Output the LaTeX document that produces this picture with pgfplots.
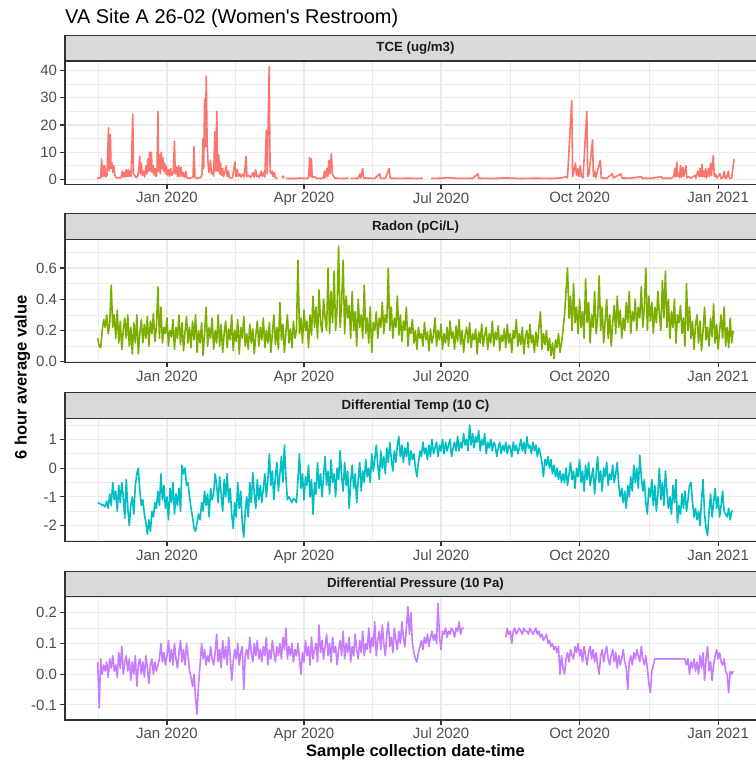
\documentclass[border=0pt]{standalone}
\usepackage{pgfplots}
\pgfplotsset{compat=1.18}
\usepackage{pgfplotstable}
\usepackage{fontspec}
\setmainfont{Liberation Sans}[Ligatures=TeXOff]

\definecolor{tcecol}{HTML}{F8766D}
\definecolor{radcol}{HTML}{7CAE00}
\definecolor{tmpcol}{HTML}{00BFC4}
\definecolor{prscol}{HTML}{C77CFF}
\definecolor{gridc}{HTML}{EBEBEB}
\definecolor{g20}{HTML}{333333}
\definecolor{g30}{HTML}{4D4D4D}
\definecolor{g85}{HTML}{D9D9D9}
\definecolor{g10}{HTML}{1A1A1A}

% time axis: days since 1 Jan 2020, one value per day
\pgfplotstableread[row sep=\\]{
v\\
0.15\\ 0.10\\ 0.09\\ 0.20\\ 0.27\\ 0.22\\ 0.30\\ 0.18\\ 0.25\\ 0.49\\
0.22\\ 0.30\\ 0.15\\ 0.33\\ 0.12\\ 0.26\\ 0.08\\ 0.20\\ 0.28\\ 0.15\\
0.30\\ 0.10\\ 0.22\\ 0.05\\ 0.25\\ 0.12\\ 0.30\\ 0.05\\ 0.18\\ 0.27\\
0.12\\ 0.24\\ 0.15\\ 0.29\\ 0.10\\ 0.26\\ 0.18\\ 0.31\\ 0.13\\ 0.22\\
0.48\\ 0.15\\ 0.35\\ 0.12\\ 0.22\\ 0.18\\ 0.28\\ 0.10\\ 0.20\\ 0.16\\
0.27\\ 0.08\\ 0.22\\ 0.15\\ 0.30\\ 0.11\\ 0.25\\ 0.07\\ 0.19\\ 0.29\\
0.12\\ 0.22\\ 0.09\\ 0.26\\ 0.14\\ 0.30\\ 0.06\\ 0.20\\ 0.12\\ 0.25\\
0.04\\ 0.18\\ 0.35\\ 0.10\\ 0.22\\ 0.15\\ 0.28\\ 0.08\\ 0.20\\ 0.12\\
0.30\\ 0.10\\ 0.24\\ 0.06\\ 0.18\\ 0.26\\ 0.09\\ 0.21\\ 0.14\\ 0.30\\
0.07\\ 0.20\\ 0.13\\ 0.27\\ 0.05\\ 0.22\\ 0.15\\ 0.29\\ 0.10\\ 0.18\\
0.08\\ 0.24\\ 0.12\\ 0.21\\ 0.05\\ 0.17\\ 0.26\\ 0.10\\ 0.22\\ 0.14\\
0.28\\ 0.09\\ 0.20\\ 0.12\\ 0.25\\ 0.06\\ 0.18\\ 0.30\\ 0.11\\ 0.22\\
0.08\\ 0.38\\ 0.14\\ 0.24\\ 0.06\\ 0.19\\ 0.30\\ 0.12\\ 0.21\\ 0.09\\
0.26\\ 0.15\\ 0.20\\ 0.65\\ 0.18\\ 0.28\\ 0.12\\ 0.33\\ 0.20\\ 0.26\\
0.09\\ 0.30\\ 0.17\\ 0.42\\ 0.22\\ 0.35\\ 0.15\\ 0.46\\ 0.25\\ 0.19\\
0.40\\ 0.28\\ 0.20\\ 0.60\\ 0.18\\ 0.45\\ 0.25\\ 0.58\\ 0.20\\ 0.35\\
0.74\\ 0.22\\ 0.38\\ 0.65\\ 0.18\\ 0.42\\ 0.28\\ 0.36\\ 0.15\\ 0.45\\
0.20\\ 0.32\\ 0.10\\ 0.40\\ 0.22\\ 0.30\\ 0.15\\ 0.49\\ 0.18\\ 0.28\\
0.12\\ 0.35\\ 0.06\\ 0.25\\ 0.20\\ 0.32\\ 0.15\\ 0.28\\ 0.22\\ 0.38\\
0.18\\ 0.30\\ 0.25\\ 0.60\\ 0.20\\ 0.35\\ 0.15\\ 0.28\\ 0.22\\ 0.42\\
0.17\\ 0.30\\ 0.13\\ 0.26\\ 0.20\\ 0.35\\ 0.10\\ 0.22\\ 0.18\\ 0.27\\
0.12\\ 0.20\\ 0.08\\ 0.22\\ 0.15\\ 0.18\\ 0.10\\ 0.25\\ 0.14\\ 0.19\\
0.07\\ 0.21\\ 0.12\\ 0.17\\ 0.28\\ 0.10\\ 0.20\\ 0.14\\ 0.24\\ 0.08\\
0.18\\ 0.12\\ 0.22\\ 0.10\\ 0.26\\ 0.15\\ 0.19\\ 0.08\\ 0.23\\ 0.13\\
0.27\\ 0.11\\ 0.20\\ 0.06\\ 0.17\\ 0.22\\ 0.12\\ 0.25\\ 0.09\\ 0.18\\
0.14\\ 0.21\\ 0.05\\ 0.19\\ 0.12\\ 0.24\\ 0.10\\ 0.17\\ 0.22\\ 0.08\\
0.18\\ 0.12\\ 0.26\\ 0.10\\ 0.19\\ 0.14\\ 0.23\\ 0.07\\ 0.17\\ 0.13\\
0.21\\ 0.09\\ 0.24\\ 0.12\\ 0.18\\ 0.06\\ 0.20\\ 0.15\\ 0.27\\ 0.10\\
0.18\\ 0.11\\ 0.22\\ 0.05\\ 0.16\\ 0.20\\ 0.09\\ 0.24\\ 0.12\\ 0.17\\
0.06\\ 0.19\\ 0.10\\ 0.22\\ 0.32\\ 0.08\\ 0.18\\ 0.11\\ 0.20\\ 0.07\\
0.15\\ 0.04\\ 0.12\\ 0.02\\ 0.14\\ 0.09\\ 0.18\\ 0.06\\ 0.12\\ 0.20\\
0.30\\ 0.45\\ 0.60\\ 0.28\\ 0.42\\ 0.20\\ 0.50\\ 0.25\\ 0.35\\ 0.18\\
0.40\\ 0.22\\ 0.32\\ 0.15\\ 0.53\\ 0.25\\ 0.38\\ 0.12\\ 0.30\\ 0.22\\
0.45\\ 0.18\\ 0.28\\ 0.55\\ 0.20\\ 0.35\\ 0.12\\ 0.26\\ 0.40\\ 0.15\\
0.30\\ 0.10\\ 0.25\\ 0.36\\ 0.18\\ 0.42\\ 0.22\\ 0.33\\ 0.15\\ 0.28\\
0.20\\ 0.38\\ 0.25\\ 0.45\\ 0.18\\ 0.32\\ 0.26\\ 0.40\\ 0.20\\ 0.35\\
0.28\\ 0.48\\ 0.22\\ 0.35\\ 0.60\\ 0.20\\ 0.42\\ 0.26\\ 0.38\\ 0.18\\
0.35\\ 0.25\\ 0.45\\ 0.30\\ 0.20\\ 0.52\\ 0.28\\ 0.58\\ 0.22\\ 0.40\\
0.15\\ 0.32\\ 0.22\\ 0.40\\ 0.12\\ 0.30\\ 0.25\\ 0.36\\ 0.18\\ 0.28\\
0.10\\ 0.50\\ 0.20\\ 0.35\\ 0.15\\ 0.26\\ 0.08\\ 0.24\\ 0.30\\ 0.12\\
0.26\\ 0.07\\ 0.20\\ 0.35\\ 0.14\\ 0.22\\ 0.10\\ 0.28\\ 0.16\\ 0.37\\
0.12\\ 0.24\\ 0.08\\ 0.20\\ 0.30\\ 0.15\\ 0.35\\ 0.10\\ 0.22\\ 0.09\\
0.28\\ 0.12\\ 0.20\\
}\radon

\pgfplotstableread[row sep=\\]{
v\\
-1.20\\ -1.22\\ -1.25\\ -1.30\\ -1.28\\ -1.35\\ -1.15\\ -1.40\\ -0.90\\ -1.30\\
-0.50\\ -1.10\\ -0.80\\ -1.50\\ -0.60\\ -1.20\\ -0.50\\ -1.00\\ -1.75\\ -0.40\\
-1.40\\ -2.00\\ -1.30\\ -1.00\\ -1.60\\ -0.60\\ -0.20\\ 0.00\\ -0.80\\ -1.30\\
-1.10\\ -1.60\\ -1.90\\ -2.30\\ -1.80\\ -2.20\\ -1.50\\ -1.70\\ -1.20\\ -1.40\\
-0.80\\ -1.30\\ -0.20\\ -1.10\\ -0.60\\ -1.40\\ -1.00\\ -1.80\\ -0.70\\ -1.20\\
-0.50\\ -1.60\\ -0.90\\ -1.30\\ -0.70\\ -1.50\\ 0.10\\ -0.20\\ 0.00\\ -0.60\\
-0.50\\ -1.00\\ -1.40\\ -1.70\\ -2.10\\ -2.20\\ -1.90\\ -1.60\\ -1.80\\ -1.20\\
-1.50\\ -0.80\\ -1.30\\ -0.90\\ -1.70\\ -0.70\\ -1.10\\ -0.90\\ -0.20\\ -0.60\\
-1.20\\ -0.30\\ -0.90\\ -1.50\\ -0.40\\ -1.00\\ -0.20\\ -1.20\\ -0.70\\ -1.60\\
-2.10\\ -1.20\\ -1.70\\ -0.50\\ -1.40\\ -0.80\\ -1.90\\ -2.40\\ -1.50\\ -1.00\\
-1.70\\ -0.50\\ -1.20\\ -0.15\\ -0.90\\ -1.40\\ -0.40\\ -1.10\\ -0.60\\ -1.20\\
-0.70\\ -0.20\\ -1.00\\ -0.40\\ 0.50\\ -0.60\\ -0.10\\ -1.10\\ -0.30\\ 0.20\\
-0.80\\ -0.20\\ 0.40\\ -0.50\\ 0.80\\ -0.30\\ -1.10\\ -1.00\\ -1.10\\ -1.20\\
-1.05\\ -1.10\\ -1.20\\ -0.40\\ 0.50\\ -0.70\\ -0.20\\ -1.10\\ -0.30\\ -0.60\\
0.10\\ -1.00\\ -0.40\\ -1.60\\ -0.50\\ -0.90\\ 0.20\\ -0.70\\ -0.20\\ -1.00\\
-0.30\\ 0.40\\ -0.60\\ -0.10\\ -0.90\\ 0.30\\ -0.50\\ -0.20\\ -1.00\\ 0.00\\
-0.40\\ 0.60\\ -0.30\\ -0.80\\ 0.20\\ -0.60\\ -0.10\\ -1.40\\ -0.50\\ 0.10\\
-0.70\\ -0.20\\ -1.20\\ -0.40\\ 0.20\\ -0.80\\ -0.10\\ -0.50\\ 0.30\\ -0.30\\
0.00\\ -0.50\\ 0.50\\ -0.10\\ 0.30\\ 0.80\\ 0.10\\ -0.40\\ 0.60\\ 0.00\\
0.40\\ -0.20\\ 0.70\\ 0.20\\ 0.90\\ 0.30\\ -0.10\\ 0.60\\ 0.20\\ 0.80\\
1.10\\ 0.40\\ 0.80\\ 0.20\\ 0.70\\ 0.40\\ 0.90\\ 0.10\\ 0.60\\ 0.30\\
0.50\\ 0.00\\ -0.30\\ 0.20\\ 0.60\\ 0.40\\ 0.90\\ 0.50\\ 0.70\\ 0.30\\
0.80\\ 0.40\\ 1.00\\ 0.50\\ 0.70\\ 0.90\\ 0.40\\ 0.80\\ 0.60\\ 1.00\\
0.50\\ 0.90\\ 0.60\\ 0.80\\ 1.00\\ 0.40\\ 0.70\\ 0.90\\ 0.60\\ 1.10\\
0.60\\ 0.90\\ 0.70\\ 1.20\\ 0.80\\ 1.00\\ 0.60\\ 1.50\\ 0.80\\ 1.20\\
0.70\\ 1.10\\ 0.90\\ 1.30\\ 0.60\\ 1.00\\ 0.80\\ 1.20\\ 0.50\\ 0.90\\
0.70\\ 1.00\\ 0.60\\ 0.90\\ 0.80\\ 0.40\\ 0.70\\ 0.90\\ 0.50\\ 0.80\\
0.60\\ 0.90\\ 0.50\\ 0.80\\ 0.70\\ 0.40\\ 0.90\\ 0.60\\ 0.80\\ 0.50\\
0.70\\ 1.00\\ 0.60\\ 0.90\\ 0.50\\ 1.10\\ 0.70\\ 0.80\\ 0.50\\ 0.90\\
0.60\\ 0.80\\ 0.40\\ 0.70\\ 0.50\\ 0.20\\ -0.30\\ 0.30\\ 0.10\\ 0.40\\
0.00\\ 0.30\\ -0.20\\ 0.10\\ -0.30\\ 0.00\\ -0.40\\ -0.10\\ -0.50\\ -0.20\\
-0.50\\ 0.00\\ -0.60\\ -0.20\\ 0.20\\ -0.40\\ -0.10\\ -0.70\\ 0.00\\ -0.30\\
0.30\\ -0.50\\ -0.10\\ -0.80\\ 0.10\\ -0.40\\ 0.20\\ -0.60\\ -0.30\\ 0.00\\
-0.90\\ -0.20\\ 0.40\\ -0.50\\ -0.10\\ -0.80\\ 0.00\\ -0.30\\ 0.20\\ -0.60\\
-0.20\\ -0.40\\ 0.10\\ -0.50\\ -0.20\\ 0.20\\ -0.60\\ -1.00\\ -0.70\\ -1.20\\
-0.80\\ -1.40\\ -0.60\\ -1.00\\ -0.30\\ -0.80\\ 0.10\\ -0.50\\ 0.00\\ -0.70\\
0.45\\ -0.30\\ -0.80\\ -0.40\\ -1.20\\ -1.60\\ -0.70\\ -1.00\\ -0.40\\ -1.30\\
-0.60\\ -1.50\\ -0.90\\ 0.00\\ -1.10\\ -0.50\\ -1.30\\ -0.10\\ -0.80\\ -1.40\\
-1.00\\ -1.60\\ -0.60\\ -1.20\\ -0.40\\ -1.90\\ -1.30\\ -1.60\\ -0.90\\ -1.40\\
-0.80\\ -1.50\\ -1.10\\ -0.60\\ -0.50\\ -1.20\\ -1.70\\ -1.40\\ -1.80\\ -1.50\\
-2.00\\ -1.10\\ -0.40\\ -1.60\\ -2.10\\ -2.35\\ -1.50\\ -0.90\\ -1.70\\ -1.20\\
-0.70\\ -1.40\\ -1.00\\ -1.70\\ -1.30\\ -0.80\\ -1.50\\ -1.60\\ -1.70\\ -1.40\\
-1.80\\ -1.50\\ -1.50\\
}\dtemp

% differential pressure, before the logging gap (from day -46)
\pgfplotstableread[row sep=\\]{
v\\
0.04\\ -0.11\\ 0.05\\ 0.00\\ 0.03\\ 0.01\\ 0.04\\ -0.01\\ 0.05\\ 0.02\\
0.06\\ 0.01\\ 0.03\\ -0.01\\ 0.07\\ 0.02\\ 0.09\\ 0.00\\ 0.04\\ 0.06\\
0.01\\ 0.05\\ -0.02\\ 0.04\\ 0.00\\ 0.06\\ -0.04\\ 0.03\\ 0.05\\ 0.00\\
0.04\\ -0.01\\ 0.06\\ 0.02\\ -0.03\\ 0.03\\ 0.05\\ 0.00\\ 0.04\\ 0.01\\
0.03\\ 0.05\\ 0.10\\ 0.04\\ 0.07\\ 0.03\\ 0.06\\ 0.11\\ 0.04\\ 0.08\\
0.03\\ 0.10\\ 0.05\\ 0.02\\ 0.07\\ 0.11\\ 0.04\\ 0.08\\ 0.03\\ 0.10\\
0.06\\ 0.01\\ -0.01\\ -0.04\\ 0.00\\ -0.08\\ -0.13\\ -0.03\\ 0.03\\ 0.10\\
0.05\\ 0.08\\ 0.03\\ 0.06\\ 0.04\\ 0.09\\ 0.05\\ 0.03\\ 0.07\\ 0.13\\
0.04\\ 0.08\\ 0.02\\ 0.11\\ 0.05\\ 0.09\\ 0.03\\ 0.12\\ 0.06\\ -0.02\\
0.04\\ 0.08\\ 0.05\\ 0.10\\ 0.03\\ 0.07\\ 0.09\\ -0.05\\ 0.06\\ 0.08\\
0.05\\ 0.12\\ 0.07\\ 0.04\\ 0.10\\ 0.06\\ 0.11\\ 0.05\\ 0.08\\ 0.04\\
0.09\\ 0.06\\ 0.12\\ 0.03\\ 0.08\\ 0.05\\ 0.11\\ 0.07\\ 0.04\\ 0.09\\
0.06\\ 0.10\\ 0.05\\ 0.12\\ 0.08\\ 0.15\\ 0.05\\ 0.09\\ 0.06\\ 0.10\\
0.04\\ 0.08\\ 0.06\\ 0.10\\ 0.05\\ 0.00\\ 0.07\\ 0.04\\ 0.11\\ 0.06\\
0.09\\ 0.03\\ 0.12\\ 0.05\\ 0.08\\ 0.10\\ 0.04\\ 0.16\\ 0.07\\ 0.11\\
0.05\\ 0.09\\ 0.13\\ 0.06\\ 0.10\\ 0.04\\ 0.12\\ 0.07\\ 0.09\\ 0.03\\
0.08\\ 0.11\\ 0.06\\ 0.14\\ 0.05\\ 0.10\\ 0.07\\ 0.12\\ 0.04\\ 0.09\\
0.06\\ 0.13\\ 0.08\\ 0.05\\ 0.11\\ 0.07\\ 0.14\\ 0.06\\ 0.10\\ 0.08\\
0.15\\ 0.07\\ 0.12\\ 0.09\\ 0.17\\ 0.06\\ 0.11\\ 0.14\\ 0.08\\ 0.16\\
0.10\\ 0.06\\ 0.13\\ 0.17\\ 0.09\\ 0.12\\ 0.07\\ 0.15\\ 0.11\\ 0.08\\
0.14\\ 0.10\\ 0.17\\ 0.12\\ 0.09\\ 0.15\\ 0.22\\ 0.13\\ 0.20\\ 0.10\\
0.07\\ 0.05\\ 0.04\\ 0.07\\ 0.09\\ 0.11\\ 0.08\\ 0.12\\ 0.10\\ 0.13\\
0.09\\ 0.12\\ 0.14\\ 0.11\\ 0.13\\ 0.10\\ 0.23\\ 0.12\\ 0.08\\ 0.14\\
0.13\\ 0.15\\ 0.12\\ 0.14\\ 0.13\\ 0.15\\ 0.14\\ 0.12\\ 0.15\\ 0.14\\
0.17\\ 0.13\\ 0.15\\ 0.15\\
}\dpresA

% differential pressure, after the logging gap (from day 225)
\pgfplotstableread[row sep=\\]{
v\\
0.12\\ 0.15\\ 0.13\\ 0.14\\ 0.10\\ 0.14\\ 0.15\\ 0.13\\ 0.14\\ 0.15\\
0.14\\ 0.13\\ 0.15\\ 0.14\\ 0.14\\ 0.13\\ 0.15\\ 0.14\\ 0.13\\ 0.14\\
0.15\\ 0.13\\ 0.14\\ 0.12\\ 0.13\\ 0.11\\ 0.12\\ 0.13\\ 0.10\\ 0.11\\
0.09\\ 0.10\\ 0.08\\ 0.09\\ 0.07\\ 0.09\\ 0.00\\ 0.06\\ 0.02\\ 0.00\\
0.05\\ 0.07\\ 0.04\\ 0.08\\ 0.06\\ 0.05\\ 0.09\\ 0.07\\ 0.10\\ 0.06\\
0.08\\ 0.04\\ 0.09\\ 0.06\\ 0.03\\ 0.07\\ 0.09\\ 0.05\\ 0.08\\ 0.04\\
0.07\\ 0.03\\ 0.00\\ 0.06\\ 0.08\\ 0.04\\ 0.07\\ 0.09\\ 0.05\\ 0.03\\
0.06\\ 0.08\\ 0.04\\ 0.07\\ 0.02\\ 0.06\\ 0.03\\ 0.05\\ 0.08\\ 0.04\\
0.02\\ -0.05\\ 0.04\\ 0.06\\ 0.03\\ 0.07\\ 0.05\\ 0.08\\ 0.06\\ 0.04\\
0.09\\ 0.05\\ 0.03\\ 0.06\\ 0.02\\ -0.03\\ -0.06\\ 0.01\\ 0.03\\ 0.05\\
0.05\\ 0.05\\ 0.05\\ 0.05\\ 0.05\\ 0.05\\ 0.05\\ 0.05\\ 0.05\\ 0.05\\
0.05\\ 0.05\\ 0.05\\ 0.05\\ 0.05\\ 0.05\\ 0.05\\ 0.05\\ 0.05\\ 0.05\\
0.03\\ 0.05\\ 0.00\\ 0.04\\ 0.02\\ 0.05\\ 0.01\\ 0.04\\ 0.00\\ 0.06\\
0.02\\ 0.07\\ -0.02\\ 0.05\\ 0.09\\ 0.01\\ 0.04\\ -0.02\\ 0.03\\ 0.06\\
0.08\\ 0.05\\ 0.07\\ 0.04\\ 0.03\\ 0.05\\ 0.01\\ 0.00\\ -0.06\\ 0.01\\
0.00\\ 0.01\\
}\dpresB

\pgfplotsset{
  facet/.style={
    scale only axis, width=701bp, height=123.3bp,
    anchor=south west,
    xmin=-67.7, xmax=397.8,
    xtick={0,91,182,274,366},
    xticklabels={Jan 2020,Apr 2020,Jul 2020,Oct 2020,Jan 2021},
    minor xtick={-45.5,45.5,136.5,228,320},
    grid=both,
    major grid style={draw=gridc, line width=1.1bp},
    minor grid style={draw=gridc, line width=0.55bp},
    axis line style={draw=g20, line width=1.1bp},
    tick align=outside, tick pos=left,
    major tick length=4.5bp, minor tick length=0pt,
    major tick style={draw=g20, line width=1.1bp},
    ticklabel style={font=\fontsize{15}{15}\selectfont, text=g30},
    /pgf/number format/assume math mode=true,
    clip mode=individual,
    unbounded coords=jump,
    every axis plot/.append style={line width=1.6bp, no markers, line join=round},
  }
}

% grey facet strip with bold title above a panel
\newcommand{\facetstrip}[1]{%
  \draw[fill=g85, draw=g20, line width=1.1bp] (rel axis cs:0,1) rectangle ([yshift=25.5bp]rel axis cs:1,1);
  \node[font=\bfseries\fontsize{13.3}{13.3}\selectfont, text=g10] at ([yshift=12.75bp]rel axis cs:0.5,1) {#1};
}

\begin{document}
\begin{tikzpicture}

% TCE
\begin{axis}[facet, at={(65bp,577.7bp)},
  ymin=-1.84, ymax=43.57,
  ytick={0,10,20,30,40}, yticklabels={0,10,20,30,40},
  minor ytick={5,15,25,35}]
\addplot[tcecol] coordinates {
(-46.5,0.4) (-44,0.5) (-43.4,7.5) (-43,1) (-42.5,5) (-42.1,1.2) (-41.3,5) (-40.8,0.8) (-39.8,1.5)
(-38.8,19) (-38.3,3) (-37.6,16.5) (-37.1,4) (-36.5,6) (-35.9,2.5) (-35.3,5) (-34.6,1.5) (-33.8,0.6)
(-31.5,0.5) (-30.5,0.6) (-29.6,3) (-29.1,0.8) (-28.4,2.5) (-27.8,0.9) (-27.1,3.5) (-26.5,1) (-25.8,3.5)
(-25.2,1) (-24.5,3) (-23.8,1) (-22.7,24) (-22.2,2) (-21.5,1.5) (-20.5,0.6) (-19.5,1)
(-18.6,4) (-18.1,8.5) (-17.6,2) (-17,6) (-16.4,1.5) (-15.6,3) (-14.9,0.8) (-13.8,5) (-13.3,2)
(-12.7,7.5) (-12.2,3) (-11.5,10) (-11,3) (-10.3,10) (-9.8,2.5) (-9.1,5) (-8.5,1.5) (-7.8,4) (-7.2,1) (-6.6,3)
(-6,25) (-5.5,3) (-4.9,9) (-4.4,2) (-3.8,10) (-3.3,4) (-2.7,8) (-2.2,3) (-1.6,6) (-1,2) (-0.4,5)
(0.3,1.5) (1,3.5) (1.7,1) (2.5,4) (3.2,1.5) (4.2,2.5)
(5,14) (5.5,2) (6.3,4.5) (7,1) (7.8,5) (8.4,1) (9.3,4.5) (10,1) (10.8,2.5) (11.6,0.6) (12.6,3) (13.2,0.5)
(15.5,0.4) (17.3,0.8) (18,12) (18.6,0.6) (20.5,0.4) (22.5,0.6)
(23.3,2) (23.9,15) (24.4,4) (25,29.5) (25.5,12) (26.1,38) (26.7,13) (27.3,6) (27.9,2.5) (28.9,7) (29.5,2)
(30.2,3) (31,1.2) (31.8,17.5) (32.4,3) (33.1,25) (33.7,3) (34.4,9) (35,2) (35.6,6) (36.2,1.5) (37,4)
(37.6,1) (38.5,2.5) (39.4,5) (40,1) (40.8,3) (41.5,0.5) (43.5,0.5)
(45.2,6.5) (45.8,1) (46.7,3.5) (47.4,1) (48.5,2) (49.3,0.8) (50.7,2) (51.4,0.8) (52.5,8.5) (53.1,1)
(54.3,1.5) (55.5,0.6) (57.2,2.5) (57.9,0.8) (58.9,3.5) (59.6,1) (60.6,1.5) (61.3,0.6) (62.6,3) (63.3,1)
(64.3,2.5) (65,0.8) (66,18) (66.6,2) (67.9,41.5) (68.5,3) (69.2,2) (69.9,3) (70.6,1) (71.3,2.5) (72,0.5)
(73.5,0.4) (74.5,nan) (76.5,0.4) (77.2,1.2) (77.8,0.4) (78.6,nan) (79.2,0.3) (86,0.3) (88,0.5) (92,0.3)
(94,0.5) (94.8,8) (95.3,1) (95.9,7.5) (96.5,0.6) (98,1) (99,0.4) (102,0.3)
(104,0.5) (104.6,3) (105.2,0.6) (106.2,4) (106.8,1) (107.6,7) (108.2,2) (109.2,9.5) (109.8,2) (110.8,1)
(111.5,0.4) (117,0.3) (120.5,0.4) (121,nan) (122,0.3) (127,0.4)
(128.3,2) (128.8,0.5) (130,4) (130.5,0.5) (135,0.4) (138,0.3) (141.3,2) (141.8,0.4) (145,0.3)
(147.6,4) (148.2,0.5) (152,0.3) (160,0.4) (166,0.3) (170,0.4) (170.5,nan) (175.5,0.3) (182,0.4)
(186,0.6) (195,0.3) (203,0.4) (206.5,2) (207,0.4) (215,0.3) (225,0.5) (235,0.3) (245,0.4) (255,0.3)
(262,0.5) (265.3,1) (266,0.5)
(268.8,29) (269.4,1) (270.3,3) (271.3,6) (271.9,1.5) (272.8,4) (273.5,1) (274.5,5) (275.1,1) (276.3,0.6)
(278.8,25) (279.4,1) (280.3,2) (282.6,14.5) (283.2,1) (284.1,3) (284.7,0.5) (287.8,7) (288.4,0.5) (292,0.4)
(295.8,2) (296.4,0.5) (301.5,2) (302.1,0.5) (308,0.4) (315,1) (315.6,0.4) (322,0.4) (328.4,1) (329,0.4)
(335,0.4) (336.5,1) (337.3,4) (337.8,0.8) (338.6,6.3) (339.2,1) (339.8,2) (340.4,0.6) (341,5) (341.6,0.8)
(342.6,4.5) (343.2,1) (344.6,5) (345.2,0.6) (346.5,1) (348,0.4) (350.6,1.5) (351.2,0.4)
(352.5,3) (353.3,1) (354,4) (354.6,1) (355.3,5.5) (355.9,1) (356.5,3) (357.1,0.8) (357.7,4) (358.4,0.5)
(359.6,4) (360.2,1) (361,6) (361.6,1.5) (362.8,8.7) (363.5,1) (364.2,2) (365,0.4) (367.2,2) (367.8,0.4)
(369,0.5) (370.1,3) (370.7,0.4) (371.6,0.5) (372.8,3) (373.4,0.4) (375,0.5) (376.6,7.4)
};
\facetstrip{TCE (ug/m3)}
\end{axis}

% Radon
\begin{axis}[facet, at={(65bp,399.3bp)},
  ymin=-0.006, ymax=0.783,
  ytick={0,0.2,0.4,0.6}, yticklabels={0.0,0.2,0.4,0.6},
  minor ytick={0.1,0.3,0.5,0.7}]
\addplot[radcol] table[x expr=\coordindex-46, y=v] {\radon};
\facetstrip{Radon (pCi/L)}
\end{axis}

% Differential temperature
\begin{axis}[facet, at={(65bp,220.3bp)},
  ymin=-2.56, ymax=1.73,
  ytick={-2,-1,0,1}, yticklabels={-2,-1,0,1},
  minor ytick={-2.5,-1.5,-0.5,0.5,1.5}]
\addplot[tmpcol] table[x expr=\coordindex-46, y=v] {\dtemp};
\facetstrip{Differential Temp (10 C)}
\end{axis}

% Differential pressure
\begin{axis}[facet, at={(65bp,42bp)},
  ymin=-0.149, ymax=0.252,
  ytick={-0.1,0,0.1,0.2}, yticklabels={-0.1,0.0,0.1,0.2},
  minor ytick={-0.05,0.05,0.15,0.25}]
\addplot[prscol] table[x expr=\coordindex-46, y=v] {\dpresA};
\addplot[prscol] table[x expr=\coordindex+225, y=v] {\dpresB};
\facetstrip{Differential Pressure (10 Pa)}
\end{axis}

% titles
\node[anchor=base west, font=\fontsize{20}{20}\selectfont, inner sep=0pt] at (65bp,738.5bp)
  {VA Site A 26-02 (Women's Restroom)};
\node[anchor=base, font=\bfseries\fontsize{16.6}{16.6}\selectfont, inner sep=0pt] at (415.5bp,5.3bp)
  {Sample collection date-time};
\node[anchor=base, rotate=90, font=\bfseries\fontsize{16.6}{16.6}\selectfont, inner sep=0pt] at (26.7bp,384.5bp)
  {6 hour average value};

\pgfresetboundingbox
\useasboundingbox (0,0) rectangle (756bp,762bp);
\end{tikzpicture}
\end{document}
